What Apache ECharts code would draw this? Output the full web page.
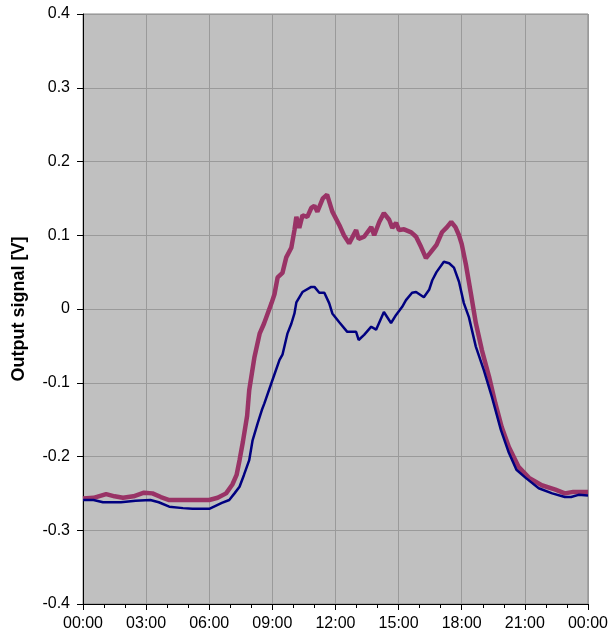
<!DOCTYPE html>
<html>
<head>
<meta charset="utf-8">
<script src="https://cdn.jsdelivr.net/npm/echarts@6/dist/echarts.min.js"></script>
<style>
html,body{margin:0;padding:0;background:#fff;}
#chart{width:611px;height:641px;}
</style>
</head>
<body>
<div id="chart"></div>
<script>
// Time in hours, values in volts
var upperHours = [0,0.5,1.1,1.5,1.9,2.4,2.9,3.3,3.7,4.1,5.0,6.0,6.4,6.8,7.1,7.3,7.44,7.6,7.8,7.9,8.15,8.4,8.6,8.96,9.1,9.25,9.48,9.66,9.9,10.05,10.14,10.28,10.43,10.66,10.85,11.0,11.14,11.4,11.6,11.85,12.18,12.4,12.65,12.98,13.1,13.36,13.7,13.84,14.08,14.3,14.55,14.7,14.88,15.02,15.26,15.6,15.83,16.07,16.3,16.5,16.8,17.06,17.3,17.5,17.7,17.87,18.0,18.2,18.43,18.67,18.96,19.3,19.6,19.9,20.24,20.7,21.2,21.8,22.45,22.9,23.3,24];
var upperValues = [-0.257,-0.256,-0.251,-0.254,-0.256,-0.254,-0.249,-0.250,-0.255,-0.259,-0.259,-0.259,-0.256,-0.250,-0.238,-0.225,-0.205,-0.180,-0.145,-0.110,-0.065,-0.033,-0.020,0.008,0.020,0.043,0.049,0.070,0.083,0.107,0.125,0.110,0.127,0.125,0.137,0.140,0.132,0.150,0.155,0.132,0.114,0.100,0.089,0.107,0.095,0.098,0.111,0.100,0.118,0.130,0.121,0.110,0.117,0.107,0.108,0.104,0.098,0.084,0.069,0.076,0.087,0.104,0.111,0.118,0.111,0.100,0.088,0.060,0.022,-0.019,-0.056,-0.092,-0.128,-0.160,-0.187,-0.214,-0.229,-0.239,-0.245,-0.250,-0.248,-0.248];

var lowerHours = [0,0.5,0.95,1.8,2.5,3.2,3.6,4.1,4.75,5.2,6.0,6.3,6.6,6.95,7.2,7.44,7.65,7.9,8.06,8.3,8.5,8.62,8.96,9.34,9.48,9.72,9.9,10.05,10.14,10.43,10.85,11.0,11.23,11.47,11.7,11.85,12.18,12.56,12.98,13.1,13.36,13.7,13.93,14.3,14.64,14.88,15.17,15.35,15.64,15.83,16.2,16.45,16.6,16.8,17.15,17.4,17.63,17.87,18.1,18.34,18.67,19.05,19.43,19.86,20.24,20.6,21.04,21.66,22.3,22.9,23.2,23.55,24];
var lowerValues = [-0.259,-0.259,-0.262,-0.262,-0.260,-0.259,-0.262,-0.268,-0.270,-0.271,-0.271,-0.267,-0.263,-0.259,-0.250,-0.241,-0.225,-0.205,-0.178,-0.155,-0.137,-0.128,-0.100,-0.069,-0.062,-0.033,-0.020,-0.006,0.009,0.023,0.030,0.030,0.022,0.022,0.008,-0.006,-0.018,-0.031,-0.031,-0.042,-0.035,-0.024,-0.028,-0.004,-0.019,-0.008,0.003,0.012,0.022,0.023,0.016,0.026,0.039,0.050,0.064,0.062,0.056,0.037,0.008,-0.011,-0.051,-0.083,-0.119,-0.164,-0.195,-0.218,-0.229,-0.243,-0.250,-0.255,-0.255,-0.252,-0.253];

var yAxisTitle = 'Output signal [V]';

function pairs(xs, ys){ return xs.map(function(x,i){ return [x, ys[i]]; }); }

var chart = echarts.init(document.getElementById('chart'), null, {renderer:'canvas'});
var labelFont = {fontFamily:'Liberation Sans, Arial, sans-serif', fontSize:16, color:'#000'};
chart.setOption({
  animation:false,
  backgroundColor:'#ffffff',
  grid:{left:83, right:21, top:14, bottom:37, show:true, backgroundColor:'#C0C0C0', borderColor:'#8a8a8a', borderWidth:1},
  xAxis:{
    type:'value', min:0, max:24, interval:3,
    axisLine:{show:true, onZero:false, lineStyle:{color:'#000', width:1}},
    axisTick:{show:true, length:6, lineStyle:{color:'#000'}},
    minorTick:{show:true, splitNumber:3, length:4, lineStyle:{color:'#000'}},
    splitLine:{show:true, lineStyle:{color:'#9a9a9a', width:1}},
    axisLabel:Object.assign({margin:12, formatter:function(v){ var h=v%24; return (h<10?'0':'')+h+':00'; }}, labelFont)
  },
  yAxis:{
    type:'value', min:-0.4, max:0.4, interval:0.1,
    name:yAxisTitle, nameLocation:'middle', nameGap:55,
    nameTextStyle:{fontFamily:'Liberation Sans, Arial, sans-serif', fontSize:18, fontWeight:'bold', color:'#000'},
    axisLine:{show:true, onZero:false, lineStyle:{color:'#000', width:1}},
    axisTick:{show:true, length:6, lineStyle:{color:'#000'}},
    splitLine:{show:true, lineStyle:{color:'#9a9a9a', width:1}},
    axisLabel:Object.assign({margin:13, formatter:function(v){ var r=Math.round(v*10)/10; return r===0?'0':r.toFixed(1); }}, labelFont)
  },
  series:[
    {type:'line', data:pairs(lowerHours, lowerValues), showSymbol:false, lineStyle:{color:'#000080', width:2.5}, z:3},
    {type:'line', data:pairs(upperHours, upperValues), showSymbol:false, lineStyle:{color:'#993366', width:4.5}, z:2}
  ]
});
</script>
</body>
</html>
